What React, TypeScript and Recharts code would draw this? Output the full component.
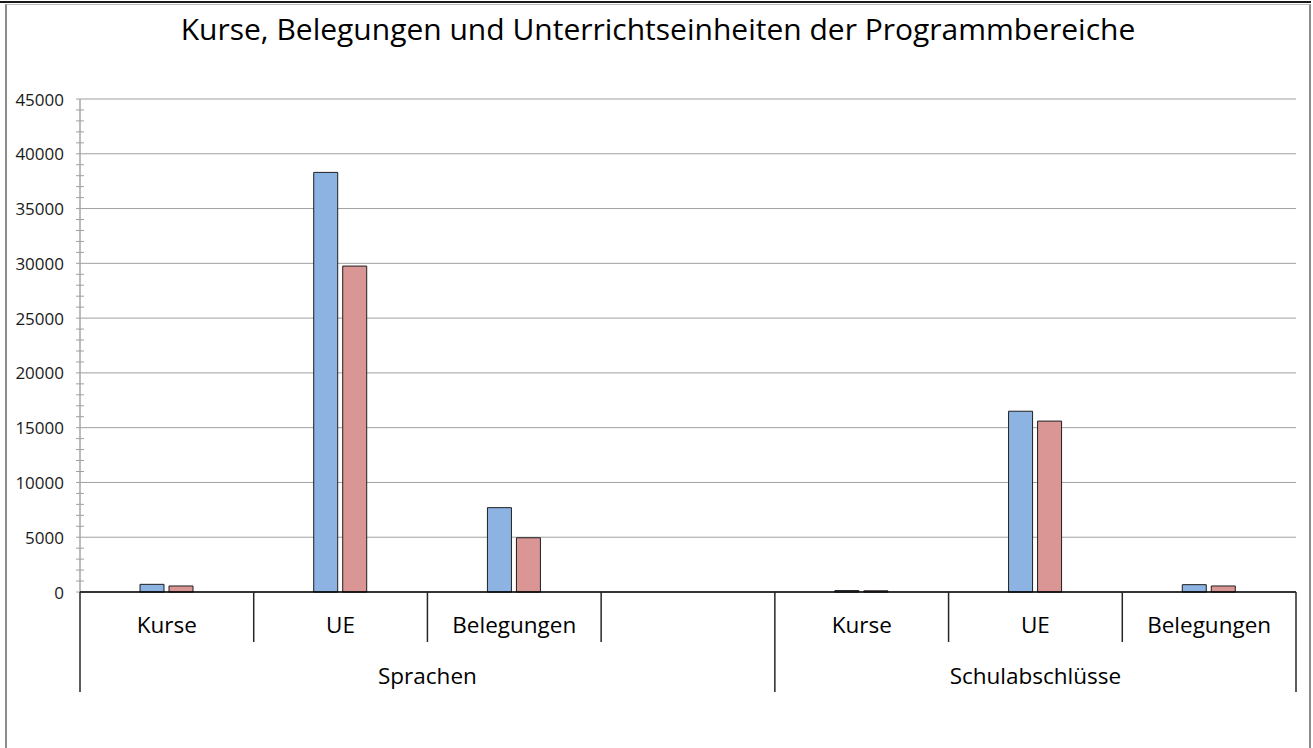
import React from "react";
import { Bar, BarChart, CartesianGrid, XAxis, YAxis } from "recharts";

const FONT = "'Open Sans', sans-serif";

// categories on the lower axis level, grouped under the programme areas
const categories = ["Kurse", "UE", "Belegungen", "", "Kurse", "UE", "Belegungen"];
const groupNames = ["Sprachen", "Schulabschlüsse"];
const groupStarts = [0, 4];
const groupSpans = [4, 3];

const seriesBlue = [700, 38300, 7700, null, 130, 16500, 670];
const seriesRed = [550, 29750, 4950, null, 110, 15600, 550];

const majorTicks = [0, 5000, 10000, 15000, 20000, 25000, 30000, 35000, 40000, 45000];
const allTicks = majorTicks.flatMap((v) =>
  v < 45000 ? [v, v + 1000, v + 2000, v + 3000, v + 4000] : [v]
);

const data = categories.map((name, i) => ({
  name,
  blue: seriesBlue[i],
  red: seriesRed[i],
}));

function YTick(props: any) {
  const { x, y, payload } = props;
  const ax = x + 16;
  const v = payload.value;
  if (majorTicks.includes(v)) {
    return (
      <g>
        <line x1={ax - 4} x2={ax} y1={y} y2={y} stroke="#a0a0a0" />
        <text
          x={x}
          y={y}
          textAnchor="end"
          dominantBaseline="central"
          fontSize={17}
          fontFamily={FONT}
          fill="#1a1a1a"
        >
          {v}
        </text>
      </g>
    );
  }
  return <line x1={ax - 4} x2={ax + 4} y1={y} y2={y} stroke="#a0a0a0" />;
}

function XTick(props: any) {
  const { x, y, payload, index } = props;
  const half = payload.offset ?? 86.86;
  const left = x - half;
  const g = groupStarts.indexOf(index);
  const isLast = index === categories.length - 1;
  return (
    <g>
      <line
        x1={left}
        x2={left}
        y1={y}
        y2={y + (g >= 0 ? 100 : 50)}
        stroke="#262626"
        strokeWidth={1.5}
      />
      {isLast && (
        <line
          x1={x + half}
          x2={x + half}
          y1={y}
          y2={y + 100}
          stroke="#262626"
          strokeWidth={1.5}
        />
      )}
      <text
        x={x}
        y={y + 32}
        textAnchor="middle"
        dominantBaseline="central"
        fontSize={22.5}
        fontFamily={FONT}
        fill="#000"
      >
        {payload.value}
      </text>
      {g >= 0 && (
        <text
          x={left + groupSpans[g] * half}
          y={y + 83}
          textAnchor="middle"
          dominantBaseline="central"
          fontSize={22.5}
          fontFamily={FONT}
          fill="#000"
        >
          {groupNames[g]}
        </text>
      )}
    </g>
  );
}

export default function App() {
  return (
    <div
      style={{
        position: "absolute",
        left: 0,
        top: 0,
        width: 1313,
        height: 748,
        overflow: "hidden",
        background: "#fff",
      }}
    >
      <div
        style={{
          position: "absolute",
          left: 0,
          top: 1,
          width: 1311,
          height: 2,
          background: "#1a1a1a",
        }}
      />
      <div
        style={{
          position: "absolute",
          left: 5,
          top: 4,
          width: 1302,
          height: 800,
          borderLeft: "2px solid #8c8c8c",
          borderRight: "2px solid #8c8c8c",
          borderTop: "1px solid #bdbdbd",
        }}
      />
      <div
        style={{
          position: "absolute",
          left: 0,
          top: 8,
          width: 1316,
          textAlign: "center",
          fontFamily: FONT,
          fontSize: 30,
          color: "#000",
        }}
      >
        Kurse, Belegungen und Unterrichtseinheiten der Programmbereiche
      </div>
      <div style={{ position: "absolute", left: 0, top: 0 }}>
        <BarChart
          width={1313}
          height={748}
          data={data}
          margin={{ top: 99, right: 17, left: 0, bottom: 56 }}
          barSize={24}
          barGap={5}
          accessibilityLayer={false}
        >
          <CartesianGrid
            vertical={false}
            horizontalValues={majorTicks}
            stroke="#a0a0a0"
          />
          <YAxis
            type="number"
            domain={[0, 45000]}
            ticks={allTicks}
            interval={0}
            width={80}
            tickSize={0}
            tickMargin={16}
            tickLine={false}
            axisLine={{ stroke: "#a6a6a6", strokeWidth: 1.5 }}
            tick={<YTick />}
          />
          <XAxis
            dataKey="name"
            interval={0}
            height={100}
            tickSize={0}
            tickMargin={0}
            tickLine={false}
            axisLine={{ stroke: "#000", strokeWidth: 1.5 }}
            tick={<XTick />}
          />
          <Bar
            dataKey="blue"
            name="Reihe 1"
            fill="#8db3e2"
            stroke="#1f1f1f"
            strokeWidth={1}
            isAnimationActive={false}
          />
          <Bar
            dataKey="red"
            name="Reihe 2"
            fill="#d99694"
            stroke="#1f1f1f"
            strokeWidth={1}
            isAnimationActive={false}
          />
        </BarChart>
      </div>
    </div>
  );
}
